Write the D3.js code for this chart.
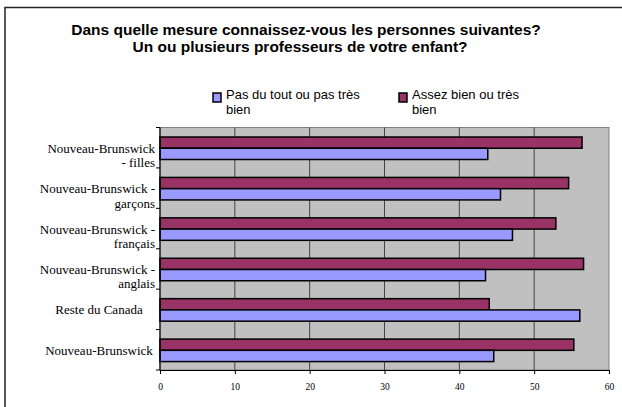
<!DOCTYPE html>
<html>
<head>
<meta charset="utf-8">
<script src="https://cdn.jsdelivr.net/npm/d3@7"></script>
<style>
  body { margin: 0; background: white; }
  svg { display: block; }
</style>
</head>
<body>
<div id="container"></div>
<script>
var w = 622;
var h = 407;

// categories, bottom to top (as drawn by the spreadsheet)
var categories = ["nb", "rc", "nbAng", "nbFra", "nbGar", "nbFil"];
var categoryLines = [
  ["Nouveau-Brunswick"],
  ["Reste du Canada"],
  ["Nouveau-Brunswick -", "anglais"],
  ["Nouveau-Brunswick -", "français"],
  ["Nouveau-Brunswick -", "garçons"],
  ["Nouveau-Brunswick", "- filles"]
];
var seriesNames = ["Pas du tout ou pas très bien", "Assez bien ou très bien"];
var pasDuTout = [44.6, 56.1, 43.5, 47.1, 45.5, 43.8];
var assezBien = [55.3, 44.0, 56.6, 52.9, 54.6, 56.4];
var xTicks = [0, 10, 20, 30, 40, 50, 60];

var svg = d3.select("div#container").append("svg")
    .attr("width", w).attr("height", h);

// chart frame
svg.append("rect")
    .attr("x", 5).attr("y", 7.5)
    .attr("width", 800).attr("height", 600)
    .attr("fill", "white").attr("stroke", "#222").attr("stroke-width", 1.5);

// title
var title = svg.append("text")
    .attr("text-anchor", "middle")
    .attr("font-family", "Liberation Sans, Arial, sans-serif")
    .attr("font-weight", "bold")
    .attr("font-size", 15.5);
title.append("tspan").attr("x", 306).attr("y", 34.5).text("Dans quelle mesure connaissez-vous les personnes suivantes?");
title.append("tspan").attr("x", 300).attr("y", 51.5).text("Un ou plusieurs professeurs de votre enfant?");

var x = d3.scaleLinear().domain([0, 60]).range([160, 609]);
var y = d3.scaleBand().domain(categories).range([370, 127.5]);
var ySub = d3.scaleBand().domain(["assez", "pas"]).range([9.5, 32]);
var color = d3.scaleOrdinal().domain(["pas", "assez"]).range(["#9999FF", "#993366"]);

// plot area
svg.append("rect")
    .attr("x", x(0)).attr("y", 127.5)
    .attr("width", x(60) - x(0)).attr("height", 370 - 127.5)
    .attr("fill", "#C0C0C0").attr("stroke", "#808080").attr("stroke-width", 1);

// gridlines
svg.append("g").selectAll("line")
  .data(xTicks.slice(1, -1))
  .enter().append("line")
    .attr("x1", function(d) { return x(d); })
    .attr("x2", function(d) { return x(d); })
    .attr("y1", 127.5).attr("y2", 370)
    .attr("stroke", "#444").attr("stroke-width", 1);

// bars
var rows = categories.map(function(c, i) {
  return { cat: c, pas: pasDuTout[i], assez: assezBien[i] };
});
var groups = svg.append("g").selectAll("g")
  .data(rows)
  .enter().append("g")
    .attr("transform", function(d) { return "translate(0," + y(d.cat) + ")"; });

groups.selectAll("rect")
  .data(function(d) { return ["assez", "pas"].map(function(k) { return { key: k, value: d[k] }; }); })
  .enter().append("rect")
    .attr("x", x(0))
    .attr("y", function(d) { return ySub(d.key); })
    .attr("width", function(d) { return x(d.value) - x(0); })
    .attr("height", ySub.bandwidth())
    .attr("fill", function(d) { return color(d.key); })
    .attr("stroke", "#000").attr("stroke-width", 1.5);

// x axis
var xAxis = svg.append("g")
    .attr("transform", "translate(0,370)")
    .call(d3.axisBottom(x).tickValues(xTicks).tickSize(4).tickPadding(9).tickSizeOuter(0));
xAxis.select(".domain").attr("stroke", "#000");
xAxis.selectAll("text")
    .attr("font-family", "Liberation Serif, Times New Roman, serif")
    .attr("font-size", 9.5).attr("fill", "#000");

// y axis line and ticks at band boundaries
svg.append("line")
    .attr("x1", x(0)).attr("x2", x(0)).attr("y1", 127.5).attr("y2", 370)
    .attr("stroke", "#000").attr("stroke-width", 1.2);
var bounds = categories.map(function(c) { return y(c); }).concat([y(categories[0]) + y.bandwidth()]);
svg.append("g").selectAll("line")
  .data(bounds)
  .enter().append("line")
    .attr("x1", x(0) - 4).attr("x2", x(0))
    .attr("y1", function(d) { return d; }).attr("y2", function(d) { return d; })
    .attr("stroke", "#000");

// category labels
var labels = svg.append("g")
    .attr("font-family", "Liberation Serif, Times New Roman, serif")
    .attr("font-size", 13).attr("fill", "#000");
categories.forEach(function(c, i) {
  var lines = categoryLines[i];
  var mid = y(c) + y.bandwidth() / 2;
  var t = labels.append("text")
      .attr("text-anchor", lines.length > 1 ? "end" : "middle");
  lines.forEach(function(line, j) {
    t.append("tspan")
      .attr("x", lines.length > 1 ? 155 : 99)
      .attr("y", mid + 5 + j * 14.5)
      .text(line);
  });
});

// legend
var legendItems = [
  { key: "pas", x: 212, lines: ["Pas du tout ou pas très", "bien"] },
  { key: "assez", x: 398, lines: ["Assez bien ou très", "bien"] }
];
var legend = svg.append("g").selectAll("g")
  .data(legendItems)
  .enter().append("g")
    .attr("transform", function(d) { return "translate(" + d.x + ",0)"; });
legend.append("rect")
    .attr("x", 1).attr("y", 93).attr("width", 8).attr("height", 9)
    .attr("fill", function(d) { return color(d.key); })
    .attr("stroke", "#000").attr("stroke-width", 1.5);
legend.append("text")
    .attr("font-family", "Liberation Sans, Arial, sans-serif")
    .attr("font-size", 13).attr("fill", "#000")
  .selectAll("tspan")
  .data(function(d) { return d.lines; })
  .enter().append("tspan")
    .attr("x", 14)
    .attr("y", function(d, j) { return 98.5 + j * 15; })
    .text(function(d) { return d; });
</script>
</body>
</html>
